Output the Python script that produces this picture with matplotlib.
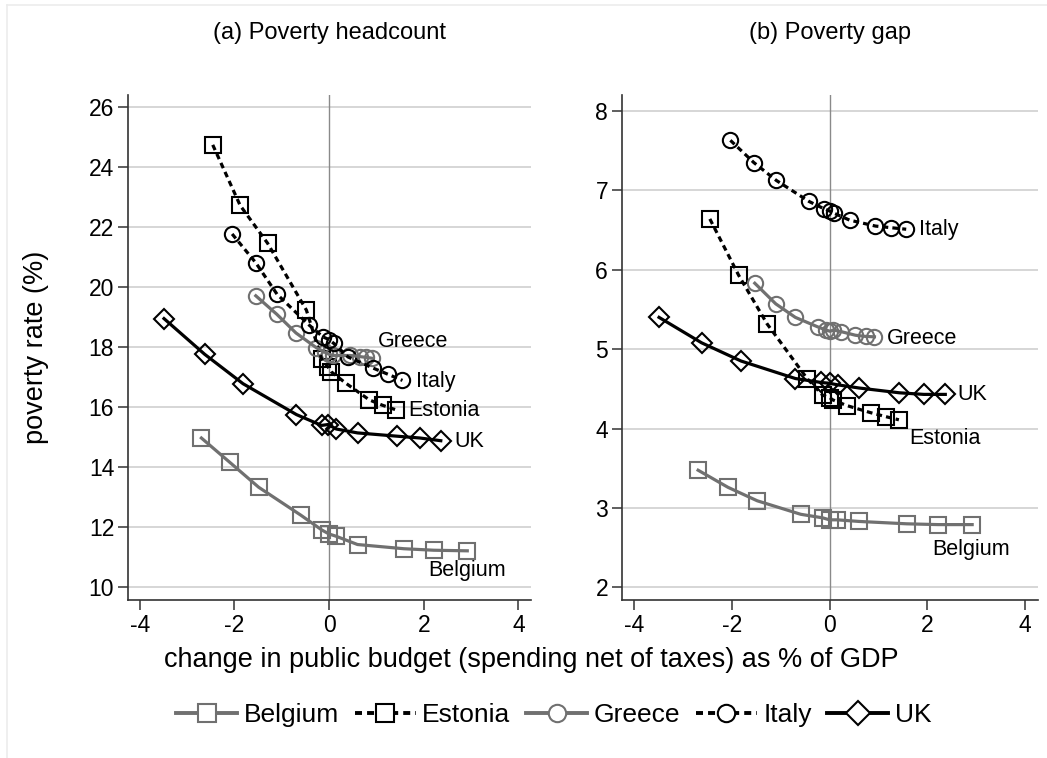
import matplotlib
matplotlib.use('Agg')
import matplotlib.pyplot as plt
from matplotlib.lines import Line2D

plt.rcParams['font.family'] = ['Liberation Sans', 'DejaVu Sans']
plt.rcParams['axes.unicode_minus'] = False

countries = ['Belgium', 'Estonia', 'Greece', 'Italy', 'UK']

# change in public budget (% of GDP) and poverty headcount (%)
hc_x = {
    'Belgium': [-2.70, -2.10, -1.49, -0.60, -0.15, 0.00, 0.14, 0.60, 1.58, 2.21, 2.92],
    'Estonia': [-2.46, -1.88, -1.30, -0.48, -0.16, -0.02, 0.05, 0.35, 0.85, 1.13, 1.41],
    'Greece': [-1.55, -1.11, -0.70, -0.27, -0.08, 0.00, 0.08, 0.45, 0.66, 0.78, 0.90],
    'Italy': [-2.05, -1.55, -1.10, -0.42, -0.13, 0.00, 0.10, 0.40, 0.93, 1.25, 1.55],
    'UK': [-3.49, -2.63, -1.82, -0.69, -0.16, -0.02, 0.15, 0.60, 1.44, 1.92, 2.36],
}
hc_y = {
    'Belgium': [14.97, 14.16, 13.33, 12.40, 11.90, 11.77, 11.70, 11.42, 11.28, 11.23, 11.21],
    'Estonia': [24.74, 22.72, 21.46, 19.23, 17.61, 17.33, 17.17, 16.80, 16.24, 16.06, 15.91],
    'Greece': [19.71, 19.10, 18.47, 17.98, 17.82, 17.76, 17.72, 17.72, 17.68, 17.66, 17.63],
    'Italy': [21.77, 20.81, 19.76, 18.73, 18.34, 18.25, 18.12, 17.67, 17.30, 17.09, 16.89],
    'UK': [18.95, 17.76, 16.78, 15.75, 15.39, 15.42, 15.27, 15.14, 15.03, 14.97, 14.88],
}

# change in public budget (% of GDP) and poverty gap (%)
gap_x = {
    'Belgium': [-2.69, -2.08, -1.48, -0.59, -0.14, 0.00, 0.16, 0.60, 1.58, 2.22, 2.92],
    'Estonia': [-2.45, -1.86, -1.28, -0.46, -0.14, 0.00, 0.07, 0.35, 0.84, 1.15, 1.42],
    'Greece': [-1.53, -1.10, -0.70, -0.24, -0.07, 0.01, 0.08, 0.24, 0.53, 0.74, 0.92],
    'Italy': [-2.03, -1.55, -1.09, -0.42, -0.12, 0.00, 0.10, 0.41, 0.94, 1.25, 1.57],
    'UK': [-3.49, -2.62, -1.81, -0.70, -0.17, 0.00, 0.17, 0.61, 1.43, 1.93, 2.37],
}
gap_y = {
    'Belgium': [3.475, 3.26, 3.09, 2.92, 2.875, 2.85, 2.85, 2.83, 2.80, 2.79, 2.79],
    'Estonia': [6.64, 5.93, 5.32, 4.63, 4.42, 4.39, 4.36, 4.29, 4.20, 4.15, 4.11],
    'Greece': [5.83, 5.57, 5.40, 5.28, 5.24, 5.225, 5.24, 5.22, 5.175, 5.16, 5.155],
    'Italy': [7.63, 7.35, 7.125, 6.86, 6.77, 6.74, 6.71, 6.625, 6.55, 6.53, 6.51],
    'UK': [5.40, 5.08, 4.85, 4.63, 4.58, 4.57, 4.55, 4.51, 4.45, 4.43, 4.43],
}

# where the country names go in each panel
hc_labels = {'Greece': (1.04, 18.2), 'Italy': (1.83, 16.85), 'Estonia': (1.67, 15.88),
             'UK': (2.64, 14.86), 'Belgium': (2.09, 10.56)}
gap_labels = {'Italy': (1.83, 6.51), 'Greece': (1.17, 5.13), 'UK': (2.62, 4.43),
              'Estonia': (1.64, 3.875), 'Belgium': (2.11, 2.475)}

GREY = '#707070'
DASH = (0, (1.8, 1.3))
style = {
    'Belgium': dict(color=GREY, ls='-', marker='s', ms=11.5),
    'Estonia': dict(color='black', ls=DASH, marker='s', ms=11.5),
    'Greece': dict(color=GREY, ls='-', marker='o', ms=11),
    'Italy': dict(color='black', ls=DASH, marker='o', ms=11),
    'UK': dict(color='black', ls='-', marker='D', ms=10.5),
}


def draw_panel(ax, xs, ys, labels, ylim, yticks, title):
    ax.axvline(0, color='#8a8a8a', lw=1.0, zorder=1)
    for c in countries:
        s = style[c]
        ax.plot(xs[c], ys[c], ls='none', marker=s['marker'], ms=s['ms'],
                mfc='none', mec=s['color'], mew=1.5, zorder=3)
        ax.plot(xs[c], ys[c], ls=s['ls'], color=s['color'], lw=2.3, zorder=4)
        lx, ly = labels[c]
        ax.text(lx, ly, c, fontsize=15.5, ha='left', va='center', zorder=5)
    ax.set_xlim(-4.25, 4.27)
    ax.set_ylim(*ylim)
    ax.set_xticks([-4, -2, 0, 2, 4])
    ax.set_yticks(yticks)
    ax.grid(axis='y', color='#d0d0d0', lw=1.2)
    ax.set_axisbelow(True)
    for side in ('top', 'right'):
        ax.spines[side].set_visible(False)
    for side in ('left', 'bottom'):
        ax.spines[side].set_linewidth(1.2)
        ax.spines[side].set_color('#333333')
    ax.tick_params(direction='out', length=7, width=1.1, color='#333333',
                   labelsize=16.5, pad=3)
    ax.set_title(title, fontsize=17, pad=40)


fig = plt.figure(figsize=(10.47, 7.58), dpi=100)
ax1 = fig.add_axes([0.1223, 0.2084, 0.385, 0.6662])
ax2 = fig.add_axes([0.594, 0.2084, 0.3975, 0.6662])

draw_panel(ax1, hc_x, hc_y, hc_labels, (9.57, 26.4), [10, 12, 14, 16, 18, 20, 22, 24, 26],
           '(a) Poverty headcount')
draw_panel(ax2, gap_x, gap_y, gap_labels, (1.84, 8.2), [2, 3, 4, 5, 6, 7, 8],
           '(b) Poverty gap')

fig.text(0.034, 0.542, 'poverty rate (%)', rotation=90, fontsize=19.5, ha='center', va='center')
fig.text(0.507, 0.129, 'change in public budget (spending net of taxes) as % of GDP',
         fontsize=19.5, ha='center', va='center')

handles = []
for c in countries:
    s = style[c]
    handles.append(Line2D([], [], color=s['color'], ls=s['ls'], lw=2.8, marker=s['marker'],
                          ms=s['ms'] + 1.5, mfc='white', mec=s['color'], mew=1.5))
fig.legend(handles, countries, loc='center', bbox_to_anchor=(0.529, 0.057), ncol=5,
           frameon=False, fontsize=19, handlelength=2.3, handletextpad=0.25,
           columnspacing=0.6, numpoints=1)

# faint outer frame
fig.add_artist(Line2D([0.0067, 0.0067], [0, 0.9934], color='#ececec', lw=1.2))
fig.add_artist(Line2D([0.0067, 1.0], [0.9934, 0.9934], color='#ececec', lw=1.2))

fig.savefig('out.png', dpi=100)
